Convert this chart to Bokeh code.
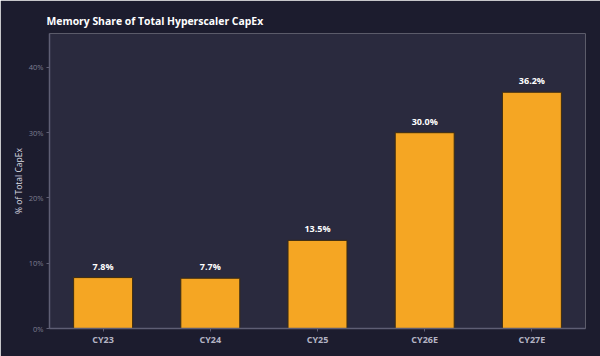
from bokeh.plotting import figure
from bokeh.models import ColumnDataSource, FixedTicker, PrintfTickFormatter, Range1d
from bokeh.core.properties import value
from bokeh.embed import file_html
from bokeh.resources import INLINE

categories = ["CY23", "CY24", "CY25", "CY26E", "CY27E"]
shares = [7.8, 7.7, 13.5, 30.0, 36.2]
labels = ["7.8%", "7.7%", "13.5%", "30.0%", "36.2%"]
y_ticks = [0, 10, 20, 30, 40]

src = ColumnDataSource(dict(cat=categories, val=shares, lab=labels))

FONT = "Open Sans"

p = figure(x_range=categories, y_range=Range1d(0, 45.2), width=600, height=356,
           output_backend="svg", toolbar_location=None,
           background_fill_color="#2a2a3e", border_fill_color="#1c1c2e",
           outline_line_color=None, min_border_left=49, min_border_right=15,
           min_border_top=33, min_border_bottom=28)
p.x_range.range_padding = 0

p.title.text = "Memory Share of Total Hyperscaler CapEx"
p.title.text_color = "#ffffff"
p.title.text_font = FONT
p.title.text_font_size = "10.4px"
p.title.text_font_style = "bold"
p.title.offset = -3
p.title.standoff = 11

p.vbar(x="cat", top="val", width=0.55, source=src, fill_color="#f5a623",
       line_color="#3d2c10", line_width=1)
p.text(x="cat", y="val", text="lab", source=src, text_color="#ffffff",
       text_font=value(FONT), text_font_size="9px", text_font_style="bold",
       text_align="center", text_baseline="bottom", y_offset=-5)

p.xgrid.grid_line_color = None
p.ygrid.grid_line_color = None

p.yaxis.ticker = FixedTicker(ticks=y_ticks)
p.yaxis.formatter = PrintfTickFormatter(format="%d%%")
p.yaxis.axis_label = "% of Total CapEx"
p.yaxis.axis_label_text_color = "#dcdce4"
p.yaxis.axis_label_text_font = FONT
p.yaxis.axis_label_text_font_size = "8.5px"
p.yaxis.axis_label_text_font_style = "normal"
p.yaxis.axis_label_standoff = 2
p.yaxis.major_label_text_color = "#7e7e92"
p.yaxis.major_label_text_font = FONT
p.yaxis.major_label_text_font_size = "7.5px"
p.yaxis.major_label_standoff = 3
p.yaxis.minor_tick_line_color = None

p.xaxis.major_label_text_color = "#b4b4c4"
p.xaxis.major_label_text_font = FONT
p.xaxis.major_label_text_font_size = "9px"
p.xaxis.major_label_text_font_style = "bold"
p.xaxis.major_label_standoff = 1

for ax in (p.xaxis[0], p.yaxis[0]):
    ax.axis_line_color = "#5e5e74"
    ax.axis_line_width = 1.5
    ax.major_tick_line_color = "#5e5e74"
    ax.major_tick_in = 0
    ax.major_tick_out = 3

open("out.html", "w").write(file_html(p, INLINE))
